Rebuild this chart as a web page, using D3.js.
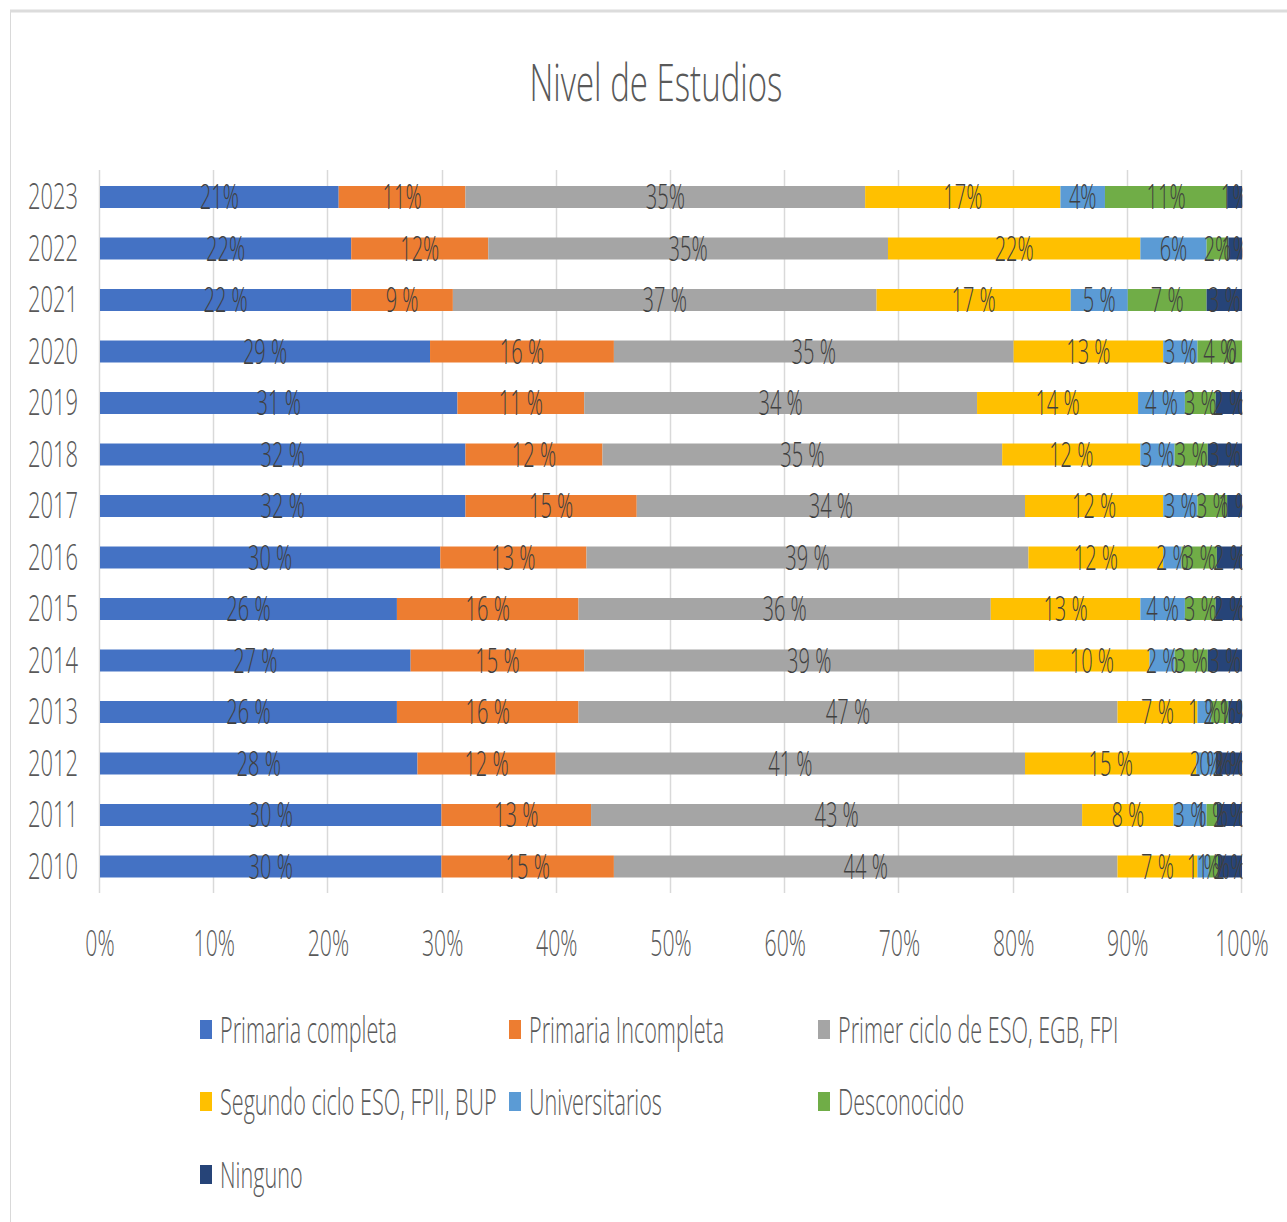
<!DOCTYPE html>
<html>
<head>
<meta charset="utf-8">
<script src="https://cdn.jsdelivr.net/npm/d3@7/dist/d3.min.js"></script>
<style>
  html, body { margin: 0; padding: 0; background: #ffffff; }
  svg { display: block; }
  text { font-family: "Open Sans", "Liberation Sans", sans-serif; font-weight: 300; }
</style>
</head>
<body>
<svg id="chart" width="1287" height="1222"></svg>
<script>
// ---- data ----
const years = ["2023","2022","2021","2020","2019","2018","2017","2016","2015","2014","2013","2012","2011","2010"];
const seriesNames = ["Primaria completa","Primaria Incompleta","Primer ciclo de ESO, EGB, FPI","Segundo ciclo ESO, FPII, BUP","Universitarios","Desconocido","Ninguno"];
const primariaCompleta   = [20.9, 22.0, 22.0, 28.9, 31.3, 32.0, 32.0, 29.8, 26.0, 27.2, 26.0, 27.8, 29.9, 29.9];
const primariaIncompleta = [11.1, 12.0,  8.9, 16.1, 11.1, 12.0, 15.0, 12.8, 15.9, 15.2, 15.9, 12.1, 13.1, 15.1];
const primerCiclo        = [35.0, 35.0, 37.1, 35.0, 34.4, 35.0, 34.0, 38.7, 36.1, 39.4, 47.2, 41.1, 43.0, 44.1];
const segundoCiclo       = [17.1, 22.1, 17.0, 13.1, 14.1, 12.1, 12.1, 11.8, 13.1, 10.1,  7.0, 15.0,  8.0,  7.0];
const universitarios     = [ 3.9,  5.8,  5.0,  3.0,  4.1,  3.0,  3.0,  1.6,  3.9,  2.2,  1.2,  1.7,  2.9,  1.0];
const desconocido        = [10.7,  1.9,  6.9,  3.9,  2.7,  2.9,  2.6,  3.1,  2.7,  2.9,  1.5,  0.0,  0.9,  0.8];
const ninguno            = [ 1.3,  1.2,  3.1,  0.0,  2.3,  3.0,  1.3,  2.2,  2.3,  3.0,  1.2,  2.3,  2.2,  2.1];
const xTickValues = [0, 10, 20, 30, 40, 50, 60, 70, 80, 90, 100];
const compactLabelYears = ["2023", "2022"];
const colors = ["#4472C4","#ED7D31","#A5A5A5","#FFC000","#5B9BD5","#70AD47","#264478"];
const titleText = "Nivel de Estudios";

const seriesValues = [primariaCompleta, primariaIncompleta, primerCiclo, segundoCiclo, universitarios, desconocido, ninguno];
const keys = seriesNames;
const table = years.map((y, i) => {
  const row = { year: y };
  keys.forEach((k, j) => row[k] = seriesValues[j][i]);
  return row;
});

// ---- layout ----
const SX = 0.57; // horizontal condensing of the text
const svg = d3.select("#chart");
const textColor = "#595959";

// chart frame
svg.append("rect").attr("x", 10.5).attr("y", 11.5).attr("width", 1290).attr("height", 1240)
  .attr("fill", "#fff").attr("stroke", "#d9d9d9").attr("stroke-width", 1);
svg.append("line").attr("x1", 10).attr("x2", 1287).attr("y1", 11).attr("y2", 11)
  .attr("stroke", "#dcdcdc").attr("stroke-width", 3);

function ctext(sel, x, y, txt, size, anchor, fill, sx) {
  return sel.append("text")
    .attr("transform", `translate(${x},${y}) scale(${sx || SX},1)`)
    .attr("text-anchor", anchor)
    .attr("font-size", size)
    .attr("fill", fill || textColor)
    .text(txt);
}

// title
ctext(svg, 656, 101, titleText, 52, "middle", textColor, 0.635);

const x = d3.scaleLinear().domain([0, 100]).range([100, 1242]);
const y = d3.scaleBand().domain(years).range([171.25, 892.25]).paddingInner(0.573).paddingOuter(0.2865);

// gridlines
svg.append("g").selectAll("line").data(xTickValues).join("line")
  .attr("x1", d => Math.round(x(d)) - 0.5).attr("x2", d => Math.round(x(d)) - 0.5)
  .attr("y1", 170).attr("y2", 893)
  .attr("stroke", "#d9d9d9").attr("stroke-width", 1.5);

// bars
const stack = d3.stack().keys(keys);
const stacked = stack(table);
const gBars = svg.append("g");
stacked.forEach((s, si) => {
  gBars.append("g").attr("fill", colors[si]).selectAll("rect").data(s).join("rect")
    .attr("x", d => x(d[0]))
    .attr("width", d => Math.max(0, x(d[1]) - x(d[0])))
    .attr("y", d => y(d.data.year))
    .attr("height", y.bandwidth());
});

// data labels (clipped to plot area)
svg.append("clipPath").attr("id", "plotClip").append("rect")
  .attr("x", 95).attr("y", 150).attr("width", 1147.5).attr("height", 760);
const gLab = svg.append("g").attr("clip-path", "url(#plotClip)");
stacked.forEach((s, si) => {
  s.forEach(d => {
    const v = d[1] - d[0];
    const yr = d.data.year;
    const sep = compactLabelYears.includes(yr) ? "" : " ";
    const cx = x((d[0] + d[1]) / 2);
    const cy = y(yr) + y.bandwidth() / 2 + 12;
    ctext(gLab, cx, cy, Math.round(v) + sep + "%", 34, "middle", "#404040", 0.59);
  });
});

// y axis labels
years.forEach(yr => {
  ctext(svg, 78, y(yr) + y.bandwidth() / 2 + 12, yr, 36, "end", textColor, 0.61);
});

// x axis labels
xTickValues.forEach(t => {
  ctext(svg, x(t), 956, t + "%", 36, "middle", textColor, 0.59);
});

// legend
const legendPos = [
  [200, 1030], [509, 1030], [818, 1030],
  [200, 1102], [509, 1102], [818, 1102],
  [200, 1175]
];
keys.forEach((k, i) => {
  const [lx, ly] = legendPos[i];
  svg.append("rect").attr("x", lx).attr("y", ly - 10).attr("width", 12).attr("height", 19).attr("fill", colors[i]);
  ctext(svg, lx + 20, ly + 13, k, 36, "start", textColor, 0.6);
});
</script>
</body>
</html>
